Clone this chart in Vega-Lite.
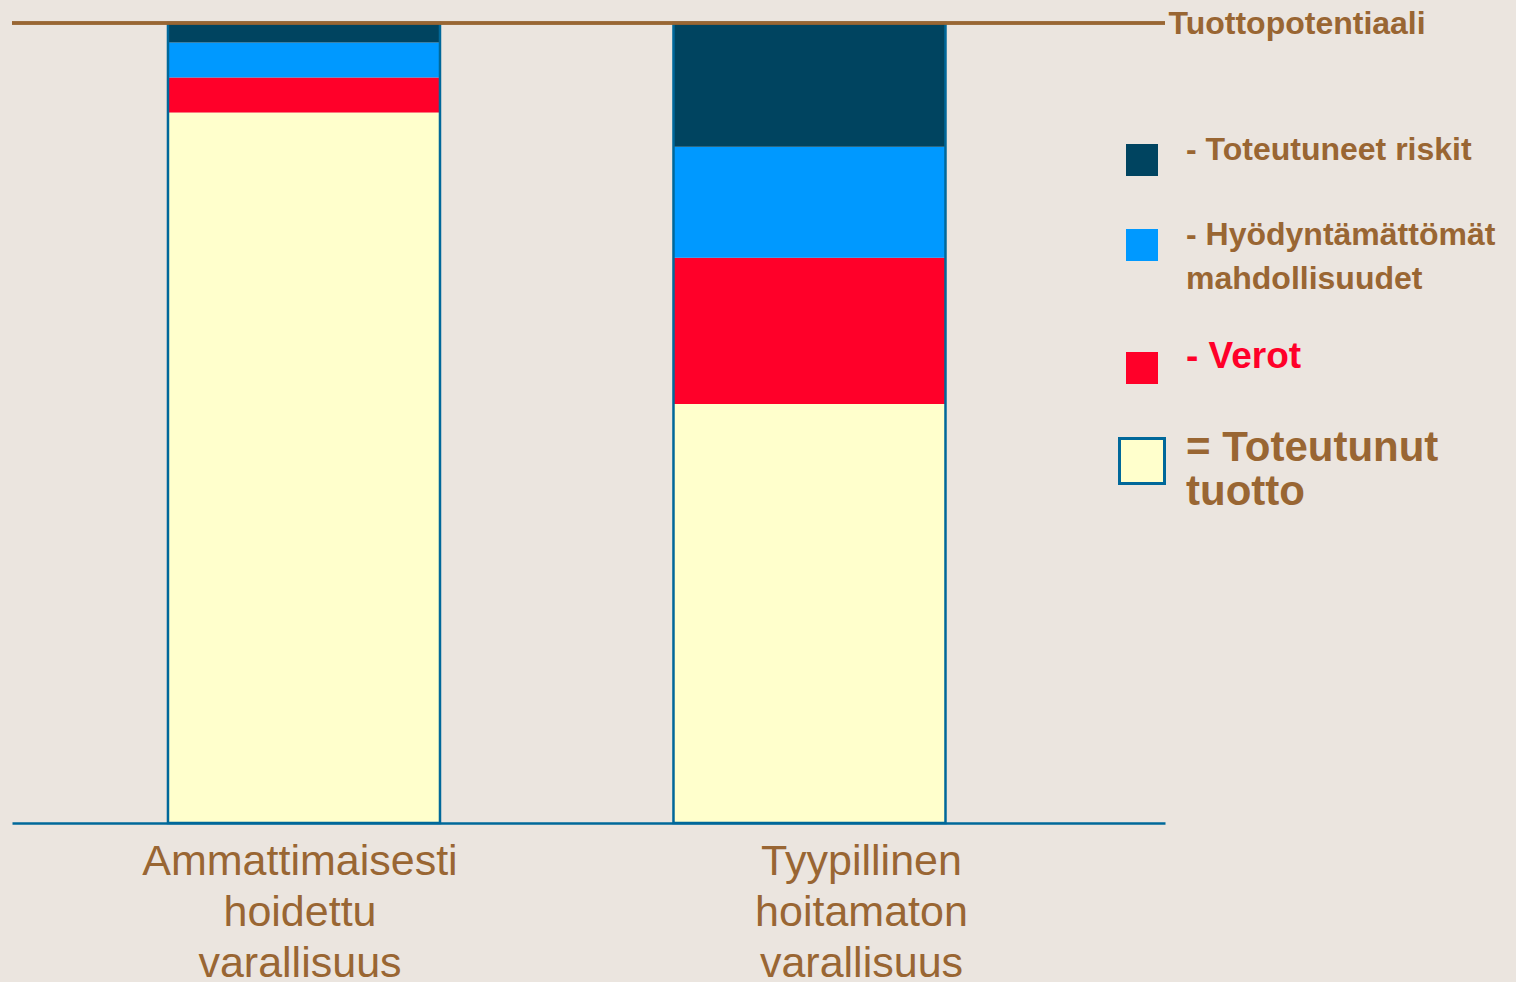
{
  "$schema": "https://vega.github.io/schema/vega-lite/v6.json",
  "width": 1153,
  "height": 800,
  "autosize": {"type": "none"},
  "padding": {"left": 12, "top": 23, "right": 351, "bottom": 159},
  "background": "#ebe5df",
  "config": {
    "view": {"stroke": null},
    "font": "Liberation Sans",
    "style": {"guide-label": {"lineHeight": 44}}
  },
  "data": {
    "values": [
      {"varallisuus": "Ammattimaisesti hoidettu varallisuus", "osa": "Toteutunut tuotto", "arvo": 88.8},
      {"varallisuus": "Ammattimaisesti hoidettu varallisuus", "osa": "Verot", "arvo": 4.375},
      {"varallisuus": "Ammattimaisesti hoidettu varallisuus", "osa": "Hyödyntämättömät mahdollisuudet", "arvo": 4.375},
      {"varallisuus": "Ammattimaisesti hoidettu varallisuus", "osa": "Toteutuneet riskit", "arvo": 2.45},
      {"varallisuus": "Tyypillinen hoitamaton varallisuus", "osa": "Toteutunut tuotto", "arvo": 52.375},
      {"varallisuus": "Tyypillinen hoitamaton varallisuus", "osa": "Verot", "arvo": 18.29},
      {"varallisuus": "Tyypillinen hoitamaton varallisuus", "osa": "Hyödyntämättömät mahdollisuudet", "arvo": 13.875},
      {"varallisuus": "Tyypillinen hoitamaton varallisuus", "osa": "Toteutuneet riskit", "arvo": 15.46}
    ]
  },
  "transform": [{"window": [{"op": "row_number", "as": "jarjestys"}]}],
  "layer": [
    {
      "mark": {"type": "bar"},
      "encoding": {
        "x": {
          "field": "varallisuus", "type": "nominal", "sort": null,
          "scale": {"paddingInner": 0.4619, "paddingOuter": 0.3714, "align": 0.4154},
          "axis": {
            "title": null, "ticks": false, "domainColor": "#00689a", "domainWidth": 2.5,
            "labelAngle": 0, "labelFontSize": 43, "labelColor": "#996633",
            "labelLineHeight": 51, "labelPadding": 17, "labelLimit": 600,
            "labelExpr": "split(datum.label, ' ')",
            "labelOffset": {"condition": {"test": "datum.value == 'Tyypillinen hoitamaton varallisuus'", "value": 52}, "value": -4}
          }
        },
        "y": {
          "field": "arvo", "type": "quantitative", "stack": "zero",
          "scale": {"domain": [0, 100], "nice": false}, "axis": null
        },
        "order": {"field": "jarjestys", "type": "quantitative", "sort": "ascending"},
        "color": {
          "field": "osa", "type": "nominal",
          "scale": {
            "domain": ["Toteutuneet riskit", "Hyödyntämättömät mahdollisuudet", "Verot", "Toteutunut tuotto"],
            "range": ["#004460", "#0099ff", "#ff0029", "#ffffcc"]
          },
          "legend": {
            "orient": "none", "legendX": 1114, "legendY": 121, "title": null, "padding": 0,
            "symbolType": "square",
            "symbolSize": {"expr": "(datum.value == 'Toteutunut tuotto' ? 2025 : 1024)"},
            "symbolStrokeColor": "#00689a",
            "symbolStrokeWidth": {"expr": "(datum.value == 'Toteutunut tuotto' ? 3 : 0)"},
            "labelFont": "Liberation Sans", "labelFontWeight": "bold",
            "labelFontSize": {"expr": "(datum.value == 'Toteutunut tuotto' ? 42 : datum.value == 'Verot' ? 37 : 32)"},
            "labelColor": {"expr": "(datum.value == 'Verot' ? '#ff0029' : '#996633')"},
            "labelBaseline": "alphabetic",
            "labelLimit": 400, "labelOffset": 28, "rowPadding": 43,
            "labelExpr": "datum.value == 'Hyödyntämättömät mahdollisuudet' ? ['- Hyödyntämättömät', 'mahdollisuudet'] : datum.value == 'Toteutunut tuotto' ? ['= Toteutunut', 'tuotto'] : '- ' + datum.label"
          }
        }
      }
    },
    {
      "mark": {"type": "bar", "fillOpacity": 0, "stroke": "#00689a", "strokeWidth": 2.5},
      "encoding": {
        "x": {
          "field": "varallisuus", "type": "nominal", "sort": null,
          "scale": {"paddingInner": 0.4619, "paddingOuter": 0.3714, "align": 0.4154}
        },
        "y": {"aggregate": "sum", "field": "arvo", "type": "quantitative", "axis": null}
      }
    },
    {
      "mark": {"type": "rule", "color": "#996633", "strokeWidth": 2.5},
      "encoding": {
        "y": {
          "datum": 100, "type": "quantitative",
          "axis": {
            "orient": "right", "title": null, "values": [100],
            "labelExpr": "'Tuottopotentiaali'", "domain": false, "ticks": false, "grid": false,
            "labelPadding": 3, "labelFontSize": 32, "labelFontWeight": "bold",
            "labelColor": "#996633", "labelLimit": 400, "labelAlign": "left", "labelBaseline": "middle"
          }
        }
      }
    }
  ],
  "resolve": {"axis": {"y": "independent"}}
}
